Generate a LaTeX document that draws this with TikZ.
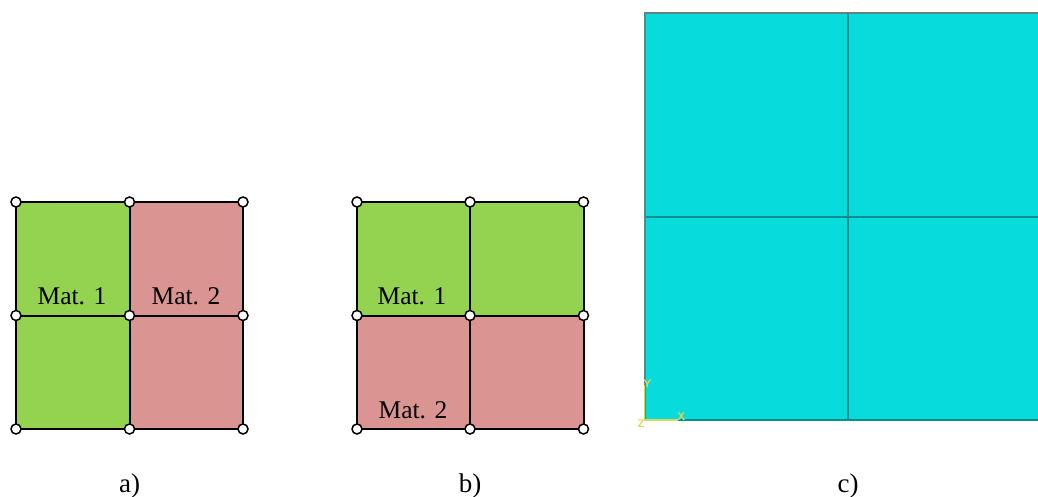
\documentclass[tikz,border=0pt]{standalone}
\usepackage{fontspec}
\setmainfont{Liberation Serif}
\definecolor{matgreen}{HTML}{93D34F}
\definecolor{matred}{HTML}{DA9592}
\definecolor{cyanfill}{HTML}{07DBDB}
\definecolor{cyanedge}{HTML}{0A8E90}
\definecolor{axisyellow}{HTML}{D8D85A}
\tikzset{
  x=1pt,y=-1pt,
  vertex/.style={circle,draw=black,fill=white,line width=1.5pt,minimum size=10pt,inner sep=0pt},
  meshline/.style={draw=black,line width=2pt},
  matlab/.style={font=\fontsize{25.5}{28}\selectfont,inner sep=0pt,text=black,anchor=base},
  caplab/.style={font=\fontsize{27}{30}\selectfont,inner sep=0pt,text=black,anchor=base},
  axislab/.style={font=\fontsize{11}{11}\sffamily\bfseries\selectfont,text=axisyellow,inner sep=0pt},
  fem/.style={draw=cyanedge,line width=2pt},
}
\begin{document}
\begin{tikzpicture}
\useasboundingbox (0,0) rectangle (1038,497);
% --- a ---
\fill[matgreen] (16,202) rectangle (129.5,429);
\fill[matred] (129.5,202) rectangle (243,429);
% --- b ---
\fill[matgreen] (357,202) rectangle (583.5,315.5);
\fill[matred] (357,315.5) rectangle (583.5,429);
% --- c ---
\fill[cyanfill] (644.5,13) rectangle (1038,420);
\coordinate (ct0) at (644.5,13);
\coordinate (ct1) at (848,13);
\coordinate (ct2) at (1038,13);
\coordinate (cm0) at (644.5,216.5);
\coordinate (cm1) at (848,216.5);
\coordinate (cm2) at (1038,216.5);
\coordinate (cb0) at (644.5,420);
\coordinate (cb1) at (848,420);
\coordinate (cb2) at (1038,420);
\draw[fem] (ct1)--(cb1) (cm0)--(cm2);
\draw[fem] (cb0)--(cb2);
\draw[fem,draw=gray!75!cyanedge] (cb0)--(ct0)--(ct2);
% triad
\coordinate (tY) at (644.5,385);
\coordinate (tX) at (678,420);
\draw[axisyellow,line width=1.3pt] (tY)--(cb0)--(tX);
\node[axislab] (ly) at (647.5,384) {Y};
\node[axislab] (lx) at (681.5,417) {X};
\node[axislab] (lz) at (641,424) {Z};
% vertices
\foreach \n/\x in {0/16,1/129.5,2/243}
  \foreach \m/\y in {0/202,1/315.5,2/429}
    \coordinate (a\n\m) at (\x,\y);
\foreach \n/\x in {0/357,1/470,2/583.5}
  \foreach \m/\y in {0/202,1/315.5,2/429}
    \coordinate (b\n\m) at (\x,\y);
\foreach \p in {a,b}{
  \draw[meshline] (\p00)--(\p20)--(\p22)--(\p02)--cycle;
  \draw[meshline] (\p10)--(\p12) (\p01)--(\p21);
  \foreach \n in {0,1,2}\foreach \m in {0,1,2}
    \node[vertex] (v\p\n\m) at (\p\n\m) {};
}
\node[matlab] (l1) at (72,304) {Mat. 1};
\node[matlab] (l2) at (186,304) {Mat. 2};
\node[matlab] (l3) at (412,304) {Mat. 1};
\node[matlab] (l4) at (413,418) {Mat. 2};
\node[caplab] (ca) at (129.5,492) {a)};
\node[caplab] (cb) at (470,492) {b)};
\node[caplab] (cc) at (848,492) {c)};
\end{tikzpicture}
\end{document}
